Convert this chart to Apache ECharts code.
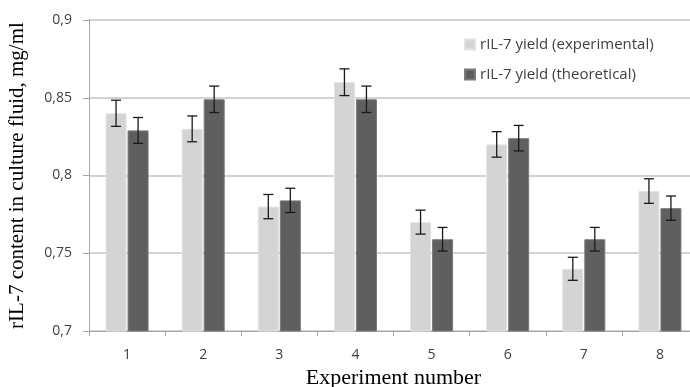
<!DOCTYPE html>
<html>
<head>
<meta charset="utf-8">
<script src="https://cdn.jsdelivr.net/npm/echarts@6/dist/echarts.min.js"></script>
<style>
  html, body { margin: 0; padding: 0; background: #fff; }
  #chart { width: 690px; height: 387px; }
</style>
</head>
<body>
<div id="chart"></div>
<script>
// 实验编号
var categories = ['1', '2', '3', '4', '5', '6', '7', '8'];
// rIL-7 产量（实验值 / 理论值），mg/ml
var experimental = [0.840, 0.830, 0.780, 0.860, 0.770, 0.820, 0.740, 0.790];
var theoretical = [0.829, 0.849, 0.784, 0.849, 0.759, 0.824, 0.759, 0.779];
// 误差（±）
var expError = [0.0084, 0.0083, 0.0078, 0.0086, 0.0077, 0.0082, 0.0074, 0.0079];
var theoError = [0.0083, 0.0085, 0.0078, 0.0085, 0.0076, 0.0082, 0.0076, 0.0078];

var BAR_W = 21;
var BAR_GAP = 1;

function errorSeries(values, errors, side) {
  var data = values.map(function (v, i) { return [i, v, errors[i]]; });
  return {
    type: 'custom',
    z: 10,
    silent: true,
    renderItem: function (params, api) {
      var i = api.value(0), v = api.value(1), e = api.value(2);
      var top = api.coord([i, v + e]);
      var bot = api.coord([i, v - e]);
      var x = top[0] + side * (BAR_W + BAR_GAP) / 2;
      var half = 5;
      var style = { stroke: '#1a1a1a', lineWidth: 1.3 };
      return {
        type: 'group',
        children: [
          { type: 'line', shape: { x1: x, y1: top[1], x2: x, y2: bot[1] }, style: style },
          { type: 'line', shape: { x1: x - half, y1: top[1], x2: x + half, y2: top[1] }, style: style },
          { type: 'line', shape: { x1: x - half, y1: bot[1], x2: x + half, y2: bot[1] }, style: style }
        ]
      };
    },
    data: data
  };
}

var myEcharts = echarts.init(document.getElementById('chart'));

var option = {
  animation: false,
  // 右侧有意超出画布（原图被裁切）
  grid: { left: 89, top: 20, width: 609, height: 311, outerBoundsMode: 'none' },
  legend: {
    orient: 'vertical',
    left: 459,
    top: 32,
    itemWidth: 10,
    itemHeight: 10,
    itemGap: 15,
    icon: 'rect',
    textStyle: { fontFamily: 'Open Sans', fontSize: 15, color: '#404040' },
    data: ['rIL-7 yield (experimental)', 'rIL-7 yield (theoretical)']
  },
  xAxis: {
    type: 'category',
    data: categories,
    name: 'Experiment number',
    nameLocation: 'middle',
    nameGap: 36,
    nameTextStyle: { fontFamily: 'Liberation Serif', fontSize: 22, color: '#000' },
    axisLine: { lineStyle: { color: '#a6a6a6', width: 1 } },
    axisTick: { show: true, length: 5, lineStyle: { color: '#a6a6a6' } },
    axisLabel: { margin: 17, fontFamily: 'Open Sans', fontSize: 14, color: '#404040' }
  },
  yAxis: {
    type: 'value',
    min: 0.7,
    max: 0.9,
    interval: 0.05,
    name: 'rIL-7 content in culture fluid, mg/ml',
    nameLocation: 'middle',
    nameGap: 61,
    nameTextStyle: { fontFamily: 'Liberation Serif', fontSize: 21, color: '#000' },
    axisLine: { show: true, lineStyle: { color: '#a6a6a6', width: 1 } },
    axisTick: { show: true, length: 6, lineStyle: { color: '#a6a6a6' } },
    splitLine: { lineStyle: { color: '#c4c4c4', width: 1.5 } },
    axisLabel: {
      margin: 17,
      fontFamily: 'Open Sans',
      fontSize: 14,
      color: '#404040',
      formatter: function (v) { return String(+v.toFixed(2)).replace('.', ','); }
    }
  },
  series: [
    {
      name: 'rIL-7 yield (experimental)',
      type: 'bar',
      barWidth: BAR_W,
      barGap: (BAR_GAP / BAR_W * 100) + '%',
      itemStyle: { color: '#d4d4d4', borderColor: '#e2e2e2', borderWidth: 1 },
      data: experimental
    },
    {
      name: 'rIL-7 yield (theoretical)',
      type: 'bar',
      barWidth: BAR_W,
      itemStyle: { color: '#5f5f5f', borderColor: '#7a7a7a', borderWidth: 1 },
      data: theoretical
    },
    errorSeries(experimental, expError, -1),
    errorSeries(theoretical, theoError, 1)
  ]
};

myEcharts.setOption(option);
</script>
</body>
</html>
